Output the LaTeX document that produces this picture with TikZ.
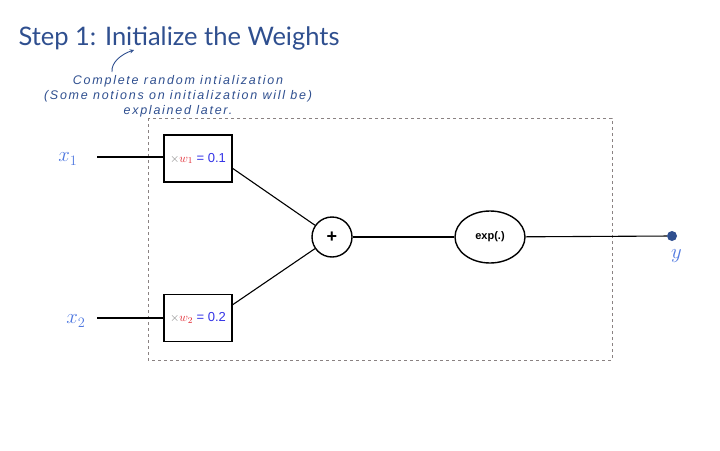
\documentclass[tikz,border=0pt]{standalone}
\usepackage{fontspec}
\setmainfont{Liberation Sans}
\newfontfamily\titlefont{Lato}
\newfontfamily\handfont[LetterSpace=14]{Liberation Sans}
\usetikzlibrary{positioning,shapes.geometric}
\definecolor{StepBlue}{HTML}{2F4F8F}
\definecolor{InBlue}{HTML}{4F78E0}
\definecolor{WRed}{HTML}{E0202A}
\definecolor{WBlue}{HTML}{3333E6}
\definecolor{FrameGray}{HTML}{8A8282}

\begin{document}
\begin{tikzpicture}[x=1pt,y=-1pt,>=stealth]
  \tikzstyle{wbox}=[draw,line width=1.6pt,minimum width=68pt,minimum height=47pt,
    inner sep=1pt,font=\fontsize{13}{15}\selectfont]
  \tikzstyle{inlab}=[text=InBlue,font=\fontsize{22}{24}\selectfont]
  \tikzstyle{link}=[line width=1.1pt]
  \useasboundingbox (0,0) rectangle (720,450);
  \node[anchor=west,text=StepBlue,font=\titlefont\fontsize{25.5}{30}\selectfont] (title) at (15,38) {Step 1: Initialize the Weights};
  \node[align=center,text=StepBlue,font=\handfont\itshape\fontsize{12.5}{15}\selectfont] (note) at (178,96)
    {Complete random intialization\\(Some notions on initialization will be)\\explained later.};
  \coordinate (tail) at (112,72);
  \coordinate (tip) at (134,50);
  \draw[->,StepBlue,line width=0.9pt] (tail) .. controls (111,62) and (122,54) .. (tip);
  \draw[FrameGray,dashed,line width=1pt] (148,118) rectangle (612,360);
  \node[wbox] (w1) at (198,158.5) {{\color{gray}$\times$}{\color{WRed}$w_1$} {\color{WBlue}= 0.1}};
  \node[wbox] (w2) at (198,318) {{\color{gray}$\times$}{\color{WRed}$w_2$} {\color{WBlue}= 0.2}};
  \node[inlab] (x1) at (68,159) {$x_1$};
  \node[inlab] (x2) at (76,321) {$x_2$};
  \coordinate (s1) at (97,157);
  \coordinate (s2) at (97,318);
  \node[draw,circle,line width=1.4pt,minimum size=40pt,font=\bfseries\fontsize{18}{18}\selectfont] (sum) at (332,237) {+};
  \node[draw,ellipse,line width=1.4pt,minimum width=70pt,minimum height=52pt,font=\bfseries\fontsize{11}{13}\selectfont] (act) at (490,237) {exp(.)};
  \node[circle,fill=StepBlue,inner sep=0pt,minimum size=10pt] (out) at (672,236) {};
  \node[inlab,below right=6pt and -8pt of out] (y) {$y$};
  \draw[link] (s1) -- (w1.west |- s1);
  \draw[link] (s2) -- (w2.west |- s2);
  \draw[link] (w1.-16) -- (sum);
  \draw[link] (w2.21) -- (sum);
  \draw[link] (sum) -- (act);
  \draw[link] (act) -- (out);
\end{tikzpicture}
\end{document}
